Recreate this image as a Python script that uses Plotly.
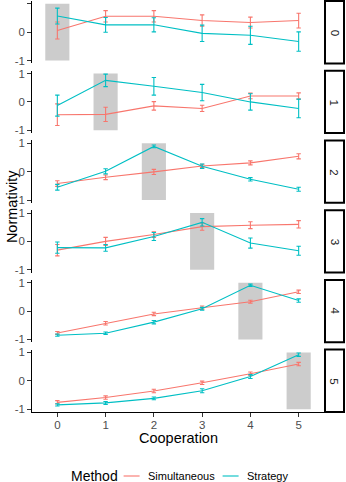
import plotly.graph_objects as go

# Cooperation levels (x) and facet rows (target cooperation level)
cooperation = [0, 1, 2, 3, 4, 5]
facets = [0, 1, 2, 3, 4, 5]

# Mean normativity per facet, Simultaneous method
simultaneous = [
    [0.06, 0.56, 0.56, 0.41, 0.34, 0.41],
    [-0.45, -0.44, -0.14, -0.23, 0.21, 0.21],
    [-0.42, -0.20, -0.01, 0.20, 0.31, 0.54],
    [-0.31, 0.00, 0.24, 0.52, 0.57, 0.60],
    [-0.77, -0.43, -0.10, 0.12, 0.33, 0.68],
    [-0.76, -0.59, -0.36, -0.07, 0.25, 0.59],
]
simultaneous_se = [
    [0.30, 0.20, 0.20, 0.20, 0.19, 0.26],
    [0.38, 0.25, 0.15, 0.11, 0.10, 0.11],
    [0.10, 0.08, 0.09, 0.06, 0.07, 0.09],
    [0.20, 0.14, 0.10, 0.13, 0.12, 0.13],
    [0.05, 0.06, 0.06, 0.06, 0.05, 0.06],
    [0.06, 0.06, 0.06, 0.06, 0.06, 0.06],
]

# Mean normativity per facet, Strategy method
strategy = [
    [0.57, 0.26, 0.26, -0.04, -0.11, -0.33],
    [-0.13, 0.76, 0.55, 0.33, 0.00, -0.23],
    [-0.55, 0.01, 0.89, 0.19, -0.27, -0.62],
    [-0.22, -0.23, 0.17, 0.67, -0.06, -0.33],
    [-0.85, -0.78, -0.39, 0.08, 0.91, 0.37],
    [-0.85, -0.78, -0.62, -0.35, 0.15, 0.92],
]
strategy_se = [
    [0.28, 0.26, 0.25, 0.29, 0.32, 0.34],
    [0.37, 0.22, 0.31, 0.29, 0.29, 0.33],
    [0.10, 0.09, 0.05, 0.08, 0.06, 0.07],
    [0.20, 0.12, 0.14, 0.13, 0.18, 0.16],
    [0.04, 0.04, 0.06, 0.05, 0.04, 0.06],
    [0.04, 0.05, 0.05, 0.07, 0.07, 0.06],
]

methods = ["Simultaneous", "Strategy"]
colors = {"Simultaneous": "#F8766D", "Strategy": "#00BFC4"}
means = {"Simultaneous": simultaneous, "Strategy": strategy}
errors = {"Simultaneous": simultaneous_se, "Strategy": strategy_se}

FONT = "Liberation Sans"
W, H = 346, 482
ML, MR, MT, MB = 32.4, 21.6, 1.0, 70.0
plot_w = W - ML - MR
plot_h = H - MT - MB
panel_h, gap = 62.4, 7.32


def px_x(px):
    return (px - ML) / plot_w


def px_y(py):
    return (H - MB - py) / plot_h


fig = go.Figure()
layout = {}
shapes = []
annotations = []

n = len(facets)
for i, f in enumerate(facets):
    top = 1 - i * (panel_h + gap) / plot_h
    bottom = top - panel_h / plot_h
    xa = "x" if i == 0 else f"x{i + 1}"
    ya = "y" if i == 0 else f"y{i + 1}"
    last = i == n - 1

    layout["xaxis" if i == 0 else f"xaxis{i + 1}"] = dict(
        domain=[0, 1], anchor=ya, range=[-0.525, 5.525],
        matches=None if i == 0 else "x",
        showline=last, linecolor="black", linewidth=1.1,
        ticks="outside" if last else "", ticklen=3.7, tickwidth=1.1, tickcolor="#333333",
        tickvals=cooperation, showticklabels=last, ticklabelstandoff=-2,
        tickfont=dict(family=FONT, size=11.5, color="#4D4D4D"),
        showgrid=False, zeroline=False, fixedrange=True,
    )
    layout["yaxis" if i == 0 else f"yaxis{i + 1}"] = dict(
        domain=[bottom, top], anchor=xa, range=[-1.1, 1.1],
        showline=True, linecolor="black", linewidth=1.1,
        ticks="outside", ticklen=3.7, tickwidth=1.1, tickcolor="#333333",
        tickvals=[-1, 0, 1], ticktext=["-1", "0", "1"],
        tickfont=dict(family=FONT, size=11.5, color="#4D4D4D"),
        showgrid=False, zeroline=False, fixedrange=True,
    )

    # shaded band marking the facet's cooperation level
    shapes.append(dict(
        type="rect", xref=xa, yref=ya, x0=f - 0.25, x1=f + 0.25, y0=-1, y1=1,
        fillcolor="#CCCCCC", line=dict(width=0), layer="below",
    ))

    # facet strip on the right
    shapes.append(dict(
        type="rect", xref="paper", yref="paper",
        x0=1 + 1.0 / plot_w, x1=1 + 20.0 / plot_w,
        y0=bottom, y1=top, fillcolor="white", line=dict(color="black", width=2),
    ))
    annotations.append(dict(
        xref="paper", yref="paper", x=1 + 10.5 / plot_w, y=(top + bottom) / 2,
        text=str(f), showarrow=False, textangle=90,
        font=dict(family=FONT, size=11.5, color="#1A1A1A"),
        xanchor="center", yanchor="middle",
    ))

    for m in methods:
        fig.add_trace(go.Scatter(
            x=cooperation, y=means[m][i], mode="lines", name=m,
            legendgroup=m, showlegend=False,
            line=dict(color=colors[m], width=1.1),
            error_y=dict(type="data", array=errors[m][i], visible=True,
                         color=colors[m], thickness=1.1, width=2.2),
            xaxis=xa, yaxis=ya,
        ))

# axis titles
annotations.append(dict(
    xref="paper", yref="paper", x=0.5, y=px_y(438),
    text="Cooperation", showarrow=False, xanchor="center", yanchor="middle",
    font=dict(family=FONT, size=14.5, color="black"),
))
annotations.append(dict(
    xref="paper", yref="paper", x=px_x(12), y=0.5,
    text="Normativity", showarrow=False, textangle=-90, xanchor="center", yanchor="middle",
    font=dict(family=FONT, size=14.5, color="black"),
))

# legend: title, key lines and labels along the bottom
legend_y = px_y(476)
annotations.append(dict(
    xref="paper", yref="paper", x=px_x(69), y=legend_y, text="Method",
    showarrow=False, xanchor="left", yanchor="middle",
    font=dict(family=FONT, size=14, color="black"),
))
key_x = {"Simultaneous": (124, 140, 146), "Strategy": (223, 239, 245)}
for m in methods:
    x0, x1, xt = key_x[m]
    shapes.append(dict(
        type="line", xref="paper", yref="paper",
        x0=px_x(x0), x1=px_x(x1), y0=legend_y, y1=legend_y,
        line=dict(color=colors[m], width=1.1),
    ))
    annotations.append(dict(
        xref="paper", yref="paper", x=px_x(xt), y=legend_y, text=m,
        showarrow=False, xanchor="left", yanchor="middle",
        font=dict(family=FONT, size=11, color="black"),
    ))

fig.update_layout(
    **layout,
    shapes=shapes,
    annotations=annotations,
    width=W, height=H,
    margin=dict(l=ML, r=MR, t=MT, b=MB, pad=0, autoexpand=False),
    paper_bgcolor="white", plot_bgcolor="white",
    showlegend=False,
)

fig.write_html("out.html")
